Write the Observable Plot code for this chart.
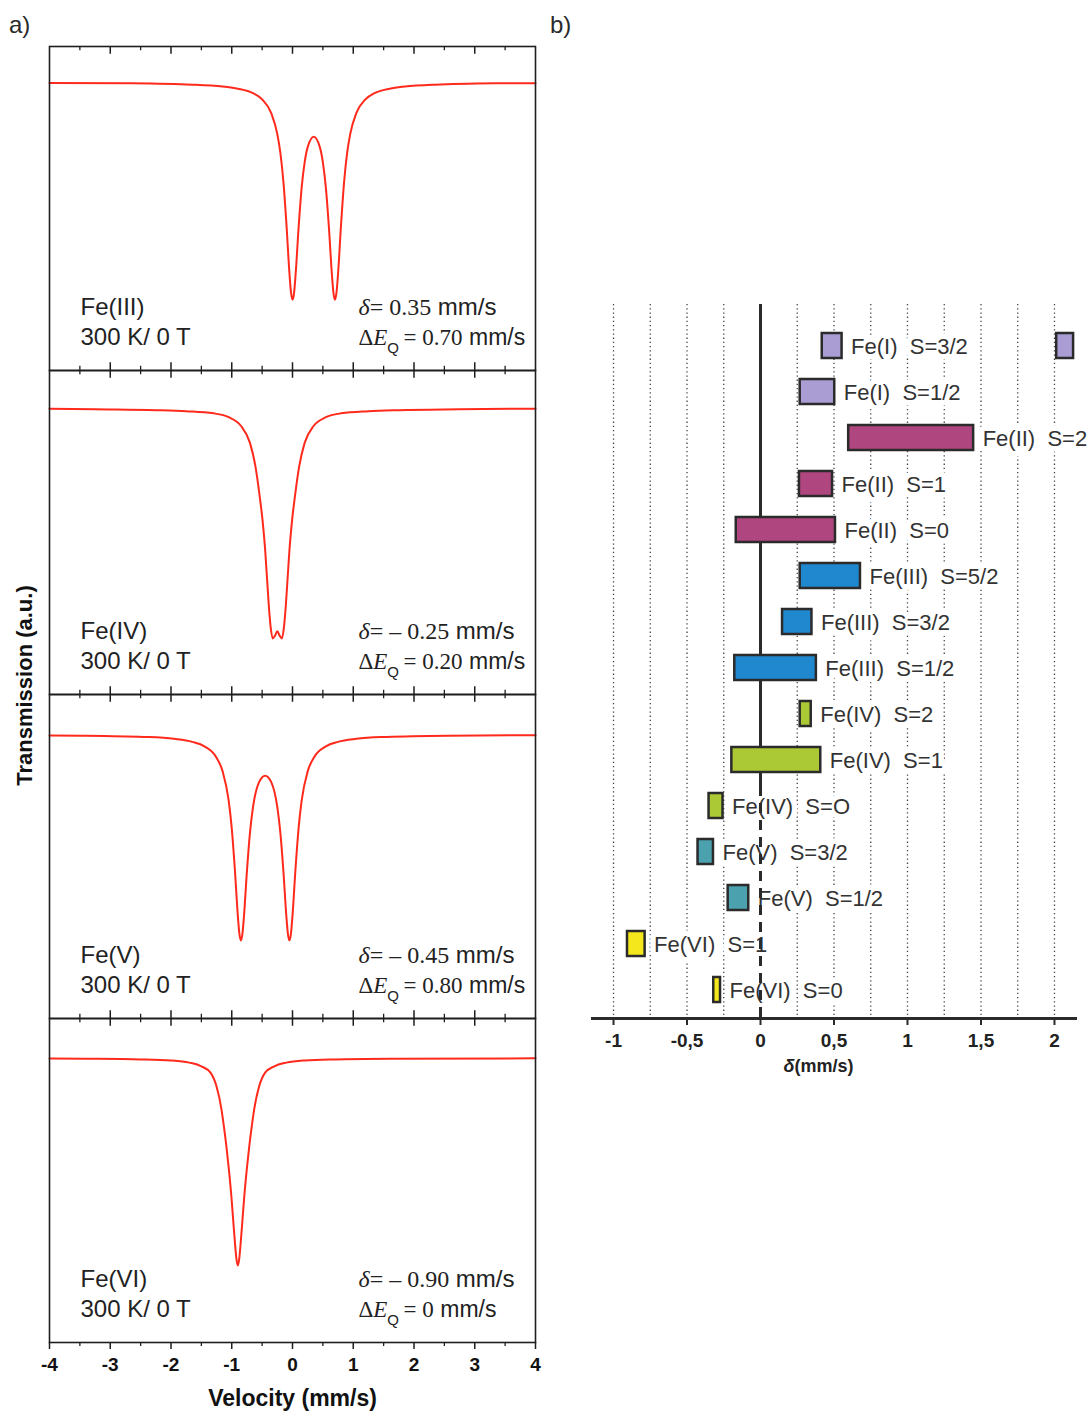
<!DOCTYPE html>
<html><head><meta charset="utf-8">
<script src="https://cdn.jsdelivr.net/npm/d3@7"></script>
<script src="https://cdn.jsdelivr.net/npm/@observablehq/plot@0.6"></script>
<style>
body{margin:0;background:#fff;font-family:"Liberation Sans",Arial,sans-serif;}
#wrap{position:relative;width:1088px;height:1415px;overflow:hidden;}
.tag{position:absolute;font-size:24px;color:#2a2a2a;line-height:1;}
#tagA{left:9px;top:13px}
#tagB{left:550px;top:13px}
#left{position:absolute;left:0;top:0}
#right{position:absolute;left:545px;top:0}
</style></head><body>
<div id="wrap"><div id="left"></div><div id="right"></div><div class="tag" id="tagA">a)</div><div class="tag" id="tagB">b)</div></div>
<script>
// ---------- Panel a) : Mössbauer spectra (velocity mm/s, relative transmission) ----------
const panels = [0, 1, 2, 3];
const ionNames = ["Fe(III)", "Fe(IV)", "Fe(V)", "Fe(VI)"];
const conditions = ["300 K/ 0 T", "300 K/ 0 T", "300 K/ 0 T", "300 K/ 0 T"];
const deltaValues = ["0.35", "– 0.25", "– 0.45", "– 0.90"];
const splitValues = ["0.70", "0.20", "0.80", "0"];

const spectrumFeIII = [[-4,0.998],[-2.65,0.996],[-1.65,0.990],[-1.15,0.981],[-0.9,0.971],[-0.65,0.950],[-0.5,0.921],[-0.35,0.857],[-0.25,0.759],[-0.2,0.672],[-0.15,0.537],[-0.1,0.340],[-0.05,0.107],[-0.025,0.020],[0,-0.015],[0.025,0.015],[0.05,0.098],[0.1,0.320],[0.15,0.506],[0.2,0.627],[0.25,0.698],[0.35,0.746],[0.45,0.698],[0.5,0.627],[0.55,0.506],[0.6,0.320],[0.65,0.098],[0.675,0.015],[0.7,-0.015],[0.725,0.020],[0.75,0.107],[0.8,0.340],[0.85,0.537],[0.9,0.672],[0.95,0.759],[1.05,0.857],[1.2,0.921],[1.35,0.950],[1.6,0.971],[1.85,0.981],[2.35,0.990],[3.35,0.996],[4,0.997]];
const spectrumFeIV = [[-4,0.990],[-3.25,0.987],[-2.25,0.983],[-1.75,0.978],[-1.3,0.968],[-1.05,0.95],[-0.85,0.91],[-0.7,0.83],[-0.61,0.72],[-0.54,0.58],[-0.49,0.46],[-0.45,0.33],[-0.42,0.20],[-0.39,0.07],[-0.36,-0.03],[-0.325,-0.084],[-0.29,-0.072],[-0.25,-0.05],[-0.21,-0.072],[-0.175,-0.084],[-0.14,-0.03],[-0.11,0.07],[-0.08,0.20],[-0.05,0.33],[-0.01,0.46],[0.04,0.58],[0.11,0.72],[0.2,0.83],[0.35,0.91],[0.55,0.95],[0.8,0.968],[1.25,0.978],[1.75,0.983],[2.75,0.987],[4,0.990]];
const spectrumFeV = [[-4,0.977],[-3.45,0.976],[-2.45,0.970],[-1.95,0.961],[-1.65,0.947],[-1.45,0.926],[-1.25,0.873],[-1.15,0.809],[-1.05,0.671],[-1.0,0.543],[-0.95,0.356],[-0.9,0.135],[-0.875,0.052],[-0.85,0.019],[-0.825,0.049],[-0.8,0.128],[-0.75,0.343],[-0.7,0.523],[-0.65,0.642],[-0.55,0.759],[-0.45,0.789],[-0.35,0.759],[-0.25,0.642],[-0.2,0.523],[-0.15,0.343],[-0.1,0.128],[-0.075,0.049],[-0.05,0.019],[-0.025,0.052],[0.0,0.135],[0.05,0.356],[0.1,0.543],[0.15,0.671],[0.25,0.809],[0.35,0.873],[0.55,0.926],[0.75,0.947],[1.05,0.961],[1.55,0.970],[2.55,0.976],[4,0.978]];
const spectrumFeVI = [[-4,0.981],[-3.4,0.980],[-2.5,0.977],[-2.0,0.972],[-1.7,0.962],[-1.5,0.945],[-1.35,0.915],[-1.25,0.85],[-1.17,0.745],[-1.13,0.665],[-1.09,0.575],[-1.05,0.47],[-1.007,0.34],[-0.98,0.24],[-0.95,0.13],[-0.925,0.05],[-0.9,0.014],[-0.875,0.05],[-0.85,0.13],[-0.82,0.24],[-0.793,0.34],[-0.75,0.47],[-0.71,0.575],[-0.67,0.665],[-0.63,0.745],[-0.55,0.85],[-0.45,0.915],[-0.3,0.945],[-0.1,0.962],[0.2,0.972],[0.7,0.977],[1.6,0.980],[4,0.982]];

const velocityTicks = [-4, -3, -2, -1, 0, 1, 2, 3, 4];
const innerMajorTicks = [-3, -2, -1, 0, 1, 2, 3];
const minorTicks = [-3.5, -2.5, -1.5, -0.5, 0.5, 1.5, 2.5, 3.5];

// ---------- Panel b) : isomer shift ranges ----------
const rowLabels = ["Fe(I)  S=3/2", "Fe(I)  S=1/2", "Fe(II)  S=2", "Fe(II)  S=1", "Fe(II)  S=0",
  "Fe(III)  S=5/2", "Fe(III)  S=3/2", "Fe(III)  S=1/2", "Fe(IV)  S=2", "Fe(IV)  S=1",
  "Fe(IV)  S=O", "Fe(V)  S=3/2", "Fe(V)  S=1/2", "Fe(VI)  S=1", "Fe(VI)  S=0"];
const barRowIndex = [0, 0, 1, 2, 3, 4, 5, 6, 7, 8, 9, 10, 11, 12, 13, 14];
const barLow  = [0.42, 2.015, 0.27, 0.60, 0.265, -0.165, 0.27, 0.15, -0.175, 0.27, -0.195, -0.35, -0.425, -0.22, -0.905, -0.318];
const barHigh = [0.555, 2.13, 0.505, 1.45, 0.49, 0.51, 0.68, 0.35, 0.38, 0.345, 0.41, -0.255, -0.32, -0.08, -0.785, -0.272];
const oxidationStates = ["Fe(I)", "Fe(II)", "Fe(III)", "Fe(IV)", "Fe(V)", "Fe(VI)"];
const oxidationColors = ["#a99dd3", "#b0467f", "#2088cf", "#abc934", "#4ba1ad", "#f4e71b"];
const gridValues = [-1, -0.75, -0.5, -0.25, 0.25, 0.5, 0.75, 1, 1.25, 1.5, 1.75, 2];
const shiftTicks = [-1, -0.5, 0, 0.5, 1, 1.5, 2];

// ================= build panel a =================
const SANS = "'Liberation Sans', Arial, sans-serif";
const SERIF = "'Liberation Serif', 'Times New Roman', serif";
const INK = "#1e1e1e";
const LW = 545, LH = 1415, LMT = 45, LMB = 73;
const facetH = (LH - LMT - LMB) / 4;

const spectra = [spectrumFeIII, spectrumFeIV, spectrumFeV, spectrumFeVI]
  .flatMap((pts, i) => pts.map(([v, t]) => ({panel: i, v, t})));
const topTicksMaj = panels.flatMap(p => innerMajorTicks.map(v => ({panel: p, v})));
const topTicksMin = panels.flatMap(p => minorTicks.map(v => ({panel: p, v})));
const botTicksMaj = panels.slice(0, 3).flatMap(p => innerMajorTicks.map(v => ({panel: p, v})));
const botTicksMin = panels.slice(0, 3).flatMap(p => minorTicks.map(v => ({panel: p, v})));
const panelText = panels.map(p => ({panel: p, ion: ionNames[p] + "\n" + conditions[p],
  d: "δ= " + deltaValues[p] + " mm/s", q: "ΔEQ = " + splitValues[p] + " mm/s"}));

const left = Plot.plot({
  width: LW, height: LH,
  marginLeft: 49, marginRight: 10, marginTop: LMT, marginBottom: LMB,
  style: {fontFamily: SANS, background: "white"},
  x: {domain: [-4, 4], label: null},
  y: {domain: [-0.3458, 1.1682], axis: null},
  fy: {domain: panels, padding: 0, axis: null},
  marks: [
    Plot.line(spectra, {x: "v", y: "t", fy: "panel", stroke: "#ff2a1c", strokeWidth: 2, curve: "monotone-x"}),
    Plot.frame({stroke: INK, strokeWidth: 1.6}),
    Plot.tickX(topTicksMaj, {x: "v", fy: "panel", stroke: INK, strokeWidth: 1.5, insetBottom: facetH - 8}),
    Plot.tickX(topTicksMin, {x: "v", fy: "panel", stroke: INK, strokeWidth: 1.3, insetBottom: facetH - 4.5}),
    Plot.tickX(botTicksMaj, {x: "v", fy: "panel", stroke: INK, strokeWidth: 1.5, insetTop: facetH - 8}),
    Plot.tickX(botTicksMin, {x: "v", fy: "panel", stroke: INK, strokeWidth: 1.3, insetTop: facetH - 4.5}),
    Plot.axisX(velocityTicks, {anchor: "bottom", tickSize: 7, tickPadding: 8, strokeWidth: 1.5, stroke: INK,
      fontSize: 19, fontWeight: "bold", fill: "#111", label: null, tickFormat: d => String(d)}),
    Plot.axisX(minorTicks, {anchor: "bottom", tickSize: 4, strokeWidth: 1.3, stroke: INK, label: null, tickFormat: () => ""}),
    Plot.text(panelText, {fy: "panel", x: () => -3.49, frameAnchor: "bottom", text: "ion", textAnchor: "start",
      lineAnchor: "bottom", lineHeight: 1.25, dy: -26, fontSize: 24, fill: "#222"}),
    Plot.text(panelText, {fy: "panel", x: () => 1.086, frameAnchor: "bottom", text: "d", textAnchor: "start",
      lineAnchor: "bottom", dy: -56, fontSize: 24, fill: "#222"}),
    Plot.text(panelText, {fy: "panel", x: () => 1.086, frameAnchor: "bottom", text: "q", textAnchor: "start",
      lineAnchor: "bottom", dy: -26, fontSize: 23, fill: "#222"}),
    Plot.text(["Transmission (a.u.)"], {fy: () => 1, frameAnchor: "bottom-left", rotate: -90, dx: -25, dy: -9,
      textAnchor: "middle", lineAnchor: "middle", fontSize: 22, fontWeight: "bold", fill: "#111"}),
    Plot.text(["Velocity (mm/s)"], {fy: () => 3, frameAnchor: "bottom", lineAnchor: "bottom", dy: 63,
      fontSize: 23, fontWeight: "bold", fill: "#111"})
  ]
});
document.getElementById("left").appendChild(left);

function tspan(parent, txt, attrs) {
  const t = document.createElementNS("http://www.w3.org/2000/svg", "tspan");
  t.textContent = txt;
  for (const [k, v] of Object.entries(attrs || {})) t.setAttribute(k, v);
  parent.appendChild(t);
  return t;
}
left.querySelectorAll("text").forEach(el => {
  const s = el.textContent;
  if (s.startsWith("δ=")) {
    const val = s.slice(1, s.indexOf(" mm/s"));
    el.textContent = "";
    tspan(el, "δ", {"font-family": SERIF, "font-style": "italic"});
    tspan(el, val, {"font-family": SERIF});
    tspan(el, " mm/s");
  } else if (s.startsWith("ΔEQ")) {
    const val = s.slice(3, s.indexOf(" mm/s")).replace(/^ /, "\u2009");
    el.textContent = "";
    tspan(el, "Δ", {"font-family": SERIF});
    tspan(el, "E", {"font-family": SERIF, "font-style": "italic"});
    tspan(el, "Q", {"font-size": "15px", "dy": "8"});
    tspan(el, val, {"font-family": SERIF, "dy": "-8"});
    tspan(el, " mm/s");
  }
});

// ================= build panel b =================
const bars = barRowIndex.map((r, i) => ({row: rowLabels[r], lo: barLow[i], hi: barHigh[i], group: rowLabels[r].split(" ")[0]}));
const labels = rowLabels.map((lab, r) => ({row: lab, x: barHigh[barRowIndex.indexOf(r)]}));

const RW = 543, RH = 1100, RMT = 304, RMB = 82;
const axisY = RH - RMB;
const dashStart = 786;

const right = Plot.plot({
  width: RW, height: RH,
  marginLeft: 47, marginRight: 13, marginTop: RMT, marginBottom: RMB,
  style: {fontFamily: SANS, background: "white"},
  x: {domain: [-1.143, 2.143], label: null},
  y: {domain: rowLabels, range: [323, 1013], paddingInner: 0.45, paddingOuter: 0.225, axis: null},
  color: {domain: oxidationStates, range: oxidationColors},
  marks: [
    Plot.ruleX(gridValues, {stroke: "#444", strokeWidth: 1.3, strokeDasharray: "1.3,2.9"}),
    Plot.text(labels, {x: "x", y: "row", text: "row", textAnchor: "start", dx: 9, dy: 1, fontSize: 22,
      fill: "#333", stroke: "white", strokeWidth: 11, paintOrder: "stroke"}),
    Plot.ruleX([0], {stroke: "#2b2b2b", strokeWidth: 3, insetBottom: axisY - dashStart}),
    Plot.ruleX([0], {stroke: "#2b2b2b", strokeWidth: 3, strokeDasharray: "10,7", insetTop: dashStart - RMT}),
    Plot.barX(bars, {x1: "lo", x2: "hi", y: "row", fill: "group", stroke: "#2b2b2b", strokeWidth: 2.5}),
    Plot.frame({anchor: "bottom", stroke: "#2b2b2b", strokeWidth: 3}),
    Plot.axisX(shiftTicks, {anchor: "bottom", tickSize: 7, tickPadding: 8, strokeWidth: 2, stroke: "#2b2b2b",
      fontSize: 19, fontWeight: "bold", fill: "#222", label: null, tickFormat: d => String(d).replace(".", ",")}),
    Plot.text(["δ(mm/s)"], {x: () => 0.395, frameAnchor: "bottom", lineAnchor: "middle", dy: 48, fontSize: 18,
      fontWeight: "bold", fill: "#222"})
  ]
});
document.getElementById("right").appendChild(right);
right.querySelectorAll("text").forEach(el => {
  if (el.textContent === "δ(mm/s)") {
    el.textContent = "";
    tspan(el, "δ", {"font-style": "italic"});
    tspan(el, "(mm/s)");
  }
});
</script>
</body></html>
